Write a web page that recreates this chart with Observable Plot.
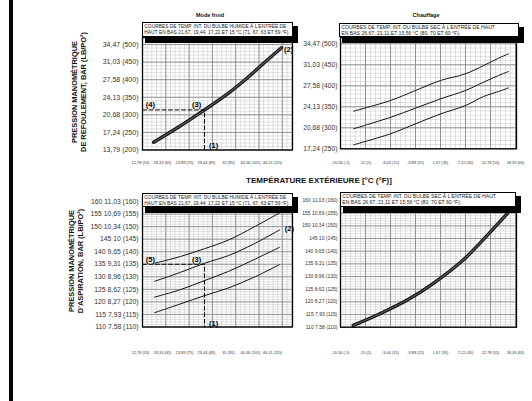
<!DOCTYPE html>
<html><head><meta charset="utf-8">
<script src="https://cdn.jsdelivr.net/npm/d3@7"></script>
<script src="https://cdn.jsdelivr.net/npm/@observablehq/plot@0.6"></script>
<style>
html,body{margin:0;padding:0;background:#fff;}
#root{position:relative;width:532px;height:401px;overflow:hidden;font-family:"Liberation Sans",Arial,sans-serif;color:#111;}
#root svg{position:absolute;left:0;top:0;}
.legend{position:absolute;background:#fff;border:1px solid #000;box-sizing:border-box;line-height:5.4px;padding:1.3px 0 0 1.3px;color:#222;white-space:nowrap;z-index:5;}
.legend span{display:inline-block;white-space:nowrap;}
.shadow{position:absolute;background:#000;z-index:4;}
.ttl{position:absolute;font-weight:bold;white-space:nowrap;transform:translate(-50%,-50%);z-index:6;}
.ytitle{position:absolute;font-weight:bold;font-size:7.4px;line-height:8.5px;text-align:center;white-space:nowrap;transform:translate(-50%,-50%) rotate(-90deg);z-index:6;}
.bar{position:absolute;left:9px;top:0;width:3.5px;height:401px;background:#000;}
</style></head><body><div id="root"></div>
<script>
// ---------- tick labels ----------
const coolXTicksF = [55, 65, 75, 85, 95, 105, 115];
const coolXTicksC = ["12,78", "18,33", "23,89", "29,44", "35", "40,56", "46,11"];
const heatXTicksF = [-5, 5, 15, 25, 35, 45, 55, 65];
const heatXTicksC = ["-20,56", "-15", "-9,44", "-3,89", "1,67", "7,22", "12,78", "18,33"];
const coolDischTicksPsi = [200, 250, 300, 350, 400, 450, 500];
const coolDischTicksBar = ["13,79", "17,24", "20,68", "24,13", "27,58", "31,03", "34,47"];
const heatDischTicksPsi = [250, 300, 350, 400, 450, 500];
const heatDischTicksBar = ["17,24", "20,68", "24,13", "27,58", "31,03", "34,47"];
const suctTicksPsi = [110, 115, 120, 125, 130, 135, 140, 145, 150, 155, 160];
const suctTicksBar = ["7,58", "7,93", "8,27", "8,62", "8,96", "9,31", "9,65", "10", "10,34", "10,69", "11,03"];

// ---------- curves ----------
// Mode froid – discharge pressure (psig) vs outdoor °F
const coolDischF   = [61.0, 72.5, 84.1, 94.4, 103.5, 111.0, 119.1];
const coolDischPsi = [222, 266, 314, 359, 405, 447, 491];
// Mode froid – suction pressure, indoor wet bulb 71/67/63/59 °F
const coolSuctF     = [61.4, 73.2, 84.1, 95.1, 106.5, 118.3];
const coolSuct71Psi = [135.4, 138.1, 141.2, 144.7, 149.8, 155.5];
const coolSuct67Psi = [128.2, 131.8, 135.4, 138.5, 143.1, 148.7];
const coolSuct63Psi = [121.9, 124.9, 128.5, 132.2, 136.8, 141.8];
const coolSuct59Psi = [115.7, 119.2, 122.5, 125.6, 129.8, 134.9];
// Chauffage – discharge pressure, indoor dry bulb 80/70/60 °F
const heatDischF     = [0.2, 15, 25, 35, 45, 52.2, 58.2, 62.2];
const heatDisch80Psi = [339.5, 365, 388.8, 412.6, 428.6, 448, 465.7, 476];
const heatDisch70Psi = [297.6, 325, 346.7, 369, 388.8, 408.6, 424.5, 434];
const heatDisch60Psi = [259.5, 285.7, 309.5, 333, 353, 374.5, 386.4, 395];
// Chauffage – suction pressure
const heatSuctF   = [0.1, 11, 21.7, 32.3, 44.3, 51, 61.8];
const heatSuctPsi = [110.7, 115.4, 120.7, 127.4, 136.7, 143.4, 154.9];

// reading example markers
const coolRefF = 84.1;      // (1)
const coolDischRef = 314;   // (4)
const coolSuctRef = 135;    // (5)

const root = document.getElementById("root");
const zip = (xs, ys) => xs.map((x, i) => ({x, y: ys[i]}));
const range = (a, b, s) => { const r = []; for (let v = a; v <= b + 1e-9; v += s) r.push(+v.toFixed(4)); return r; };

function panel(o) {
  const [l, t, r, b] = o.frame;
  const xMap = new Map(o.xTicks.map((d, i) => [d, o.xLab[i]]));
  const yMap = new Map(o.yTicks.map((d, i) => [d, o.yLab[i]]));
  const marks = [
    Plot.ruleX(o.gxMinor, {stroke: "#c2c2c2", strokeWidth: 0.5}),
    Plot.ruleY(o.gyMinor, {stroke: "#c2c2c2", strokeWidth: 0.5}),
    Plot.ruleX(o.gxMajor, {stroke: "#808080", strokeWidth: 0.8}),
    Plot.ruleY(o.gyMajor, {stroke: "#808080", strokeWidth: 0.8}),
    Plot.axisX(o.xTicks, {tickSize: 0, tickPadding: o.xPad, fontSize: o.xFont, fill: "#333", tickFormat: d => `${xMap.get(d)} (${d})`, label: null}),
    Plot.axisY(o.yTicks, {tickSize: 0, tickPadding: o.yPad, fontSize: o.yFont, fill: "#333", tickFormat: d => o.yFmt(d, yMap.get(d)), label: null}),
    ...o.extra,
    Plot.frame({stroke: "#000", strokeWidth: 1.3})
  ];
  const svg = Plot.plot({
    width: 532, height: 401,
    marginLeft: l, marginRight: 532 - r, marginTop: t, marginBottom: 401 - b,
    x: {domain: o.xDomain}, y: {domain: o.yDomain},
    style: {background: "none", overflow: "visible", fontFamily: "'Liberation Sans', Arial, sans-serif"},
    marks
  });
  root.appendChild(svg);
}

const thick = (data) => [
  Plot.line(data, {x: "x", y: "y", stroke: "#111", strokeWidth: 3.4, curve: "catmull-rom"}),
  Plot.line(data, {x: "x", y: "y", stroke: "#5a5a5a", strokeWidth: 1.2, curve: "catmull-rom"})
];
const thin = (data) => Plot.line(data, {x: "x", y: "y", stroke: "#111", strokeWidth: 1, curve: "catmull-rom"});
const lbl = (x, y, t) => Plot.text([{x, y, t}], {x: "x", y: "y", text: "t", fontWeight: "bold", fontSize: 7.5, fill: "#000"});
const dash = (pts) => Plot.line(pts, {x: "x", y: "y", stroke: "#000", strokeWidth: 1, strokeDasharray: "4,2.5"});

const coolXDomain = [55.91, 124.09];
const coolGridMajor = range(55.91, 124.09, 10.59);
const coolGridMinor = range(55.91, 124.09, 2.118);
const heatXDomain = [-5, 65.4];

// Panel 1 : Mode froid, refoulement
panel({
  frame: [142, 37, 292, 149.5],
  xDomain: coolXDomain, yDomain: [200, 520],
  xTicks: coolXTicksF, xLab: coolXTicksC, xPad: 11.5, xFont: 3.9,
  yTicks: coolDischTicksPsi, yLab: coolDischTicksBar, yPad: 4, yFont: 7, yFmt: (d, s) => `${s} (${d})`,
  gxMajor: coolGridMajor, gxMinor: coolGridMinor,
  gyMajor: range(200, 500, 50), gyMinor: range(200, 520, 10),
  extra: [
    ...thick(zip(coolDischF, coolDischPsi)),
    dash([{x: coolXDomain[0], y: coolDischRef}, {x: coolRefF, y: coolDischRef}, {x: coolRefF, y: 200}]),
    lbl(59.5, 329, "(4)"), lbl(80.5, 329, "(3)"), lbl(88.2, 213, "(1)"), lbl(122.3, 485.5, "(2)")
  ]
});

// Panel 2 : Chauffage, refoulement
panel({
  frame: [340, 37, 516, 148.3],
  xDomain: heatXDomain, yDomain: [250, 515],
  xTicks: heatXTicksF, xLab: heatXTicksC, xPad: 12.5, xFont: 3.9,
  yTicks: heatDischTicksPsi, yLab: heatDischTicksBar, yPad: 3, yFont: 6.7, yFmt: (d, s) => `${s} (${d})`,
  gxMajor: range(-5, 65, 10), gxMinor: range(-5, 65.4, 2),
  gyMajor: range(250, 500, 50), gyMinor: range(250, 515, 10),
  extra: [
    thin(zip(heatDischF, heatDisch80Psi)),
    thin(zip(heatDischF, heatDisch70Psi)),
    thin(zip(heatDischF, heatDisch60Psi))
  ]
});

// Panel 3 : Mode froid, aspiration
panel({
  frame: [142, 197, 292, 326.5],
  xDomain: coolXDomain, yDomain: [110, 161.6],
  xTicks: coolXTicksF, xLab: coolXTicksC, xPad: 24.5, xFont: 3.9,
  yTicks: suctTicksPsi, yLab: suctTicksBar, yPad: 4, yFont: 6.8, yFmt: (d, s) => `${d} ${s} (${d})`,
  gxMajor: coolGridMajor, gxMinor: coolGridMinor,
  gyMajor: range(110, 160, 5), gyMinor: range(110, 161, 1),
  extra: [
    thin(zip(coolSuctF, coolSuct71Psi)),
    thin(zip(coolSuctF, coolSuct67Psi)),
    thin(zip(coolSuctF, coolSuct63Psi)),
    thin(zip(coolSuctF, coolSuct59Psi)),
    dash([{x: coolXDomain[0], y: coolSuctRef}, {x: coolRefF, y: coolSuctRef}, {x: coolRefF, y: 110}]),
    lbl(59.5, 136.9, "(5)"), lbl(80.5, 136.9, "(3)"), lbl(88.2, 111.4, "(1)"), lbl(122.7, 149.2, "(2)")
  ]
});

// Panel 4 : Chauffage, aspiration
panel({
  frame: [340, 197, 516, 326.7],
  xDomain: heatXDomain, yDomain: [110, 161.2],
  xTicks: heatXTicksF, xLab: heatXTicksC, xPad: 24.5, xFont: 3.9,
  yTicks: suctTicksPsi, yLab: suctTicksBar, yPad: 3, yFont: 5, yFmt: (d, s) => `${d} ${s} (${d})`,
  gxMajor: range(-5, 65, 10), gxMinor: range(-5, 65.4, 2),
  gyMajor: range(110, 160, 5), gyMinor: range(110, 161, 1),
  extra: [ ...thick(zip(heatSuctF, heatSuctPsi)) ]
});

// ---------- HTML decorations ----------
function add(html) { root.insertAdjacentHTML("beforeend", html); return root.lastElementChild; }
add(`<div class="bar"></div>`);
const legCool = ["COURBES DE TEMP. INT. DU BULBE HUMIDE À L'ENTRÉE DE", "HAUT EN BAS 21,67, 19,44, 17,22 ET 15 °C (71, 67, 63 ET 59 °F)."];
const legHeat = ["COURBES DE TEMP. INT. DU BULBE SEC À L'ENTRÉE DE HAUT", "EN BAS 26,67, 21,11 ET 15,56 °C (80, 70 ET 60 °F)."];
function legend(x, y, w, h, lines, fs) {
  add(`<div class="shadow" style="left:${x + 3}px;top:${y + 4}px;width:${w + 2}px;height:${h + 2}px"></div>`);
  const box = add(`<div class="legend" style="left:${x}px;top:${y}px;width:${w}px;height:${h}px;font-size:${fs}px">${lines.map(s => `<span>${s}</span>`).join("<br>")}</div>`);
  // shrink until every line fits inside the box
  const maxW = w - 3;
  let f = fs;
  const widest = () => Math.max(...[...box.querySelectorAll("span")].map(s => s.getBoundingClientRect().width));
  while (widest() > maxW && f > 3) { f -= 0.1; box.style.fontSize = f + "px"; }
}
legend(142, 22, 151, 15, legCool, 5.2);
legend(339, 23, 180, 14, legHeat, 5.1);
legend(142, 193, 151, 14, legCool, 5.2);
legend(340, 192, 176, 15, legHeat, 5.1);

add(`<div class="ttl" style="left:210px;top:15px;font-size:5.5px">Mode froid</div>`);
add(`<div class="ttl" style="left:426px;top:15px;font-size:5.5px">Chauffage</div>`);
add(`<div class="ttl" style="left:319px;top:180px;font-size:8px">TEMPÉRATURE EXTÉRIEURE [°C (°F)]</div>`);
add(`<div class="ytitle" style="left:78.5px;top:92px">PRESSION MANOMÉTRIQUE<br>DE REFOULEMENT, BAR (LB/PO²)</div>`);
add(`<div class="ytitle" style="left:76px;top:261px">PRESSION MANOMÉTRIQUE<br>D'ASPIRATION, BAR (LB/PO²)</div>`);
</script></body></html>
